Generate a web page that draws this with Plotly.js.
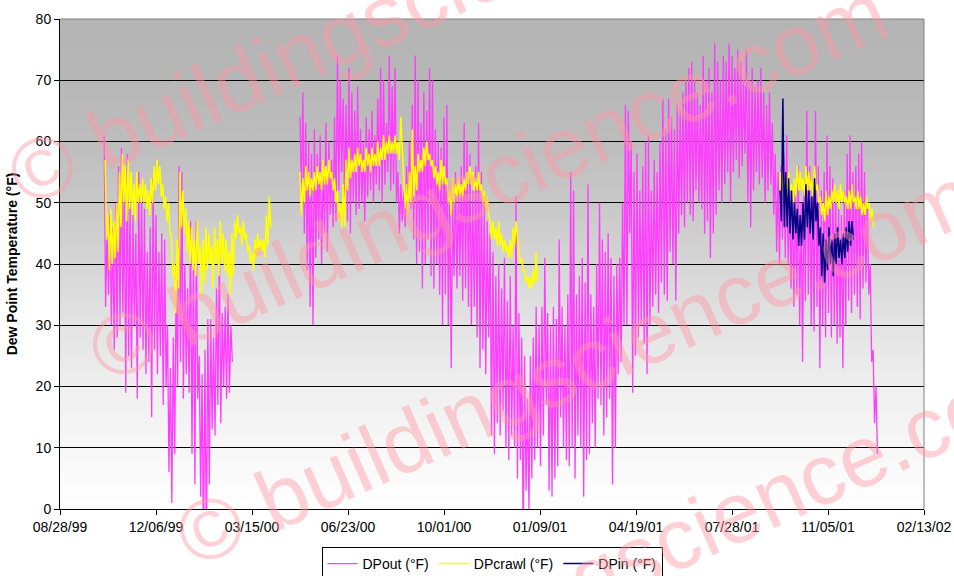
<!DOCTYPE html>
<html><head><meta charset="utf-8">
<script src="https://cdn.plot.ly/plotly-3.0.1.min.js"></script>
<style>html,body{margin:0;padding:0;background:#fff;} #chart{width:954px;height:576px;}</style>
</head><body><div id="chart"></div>
<script>
// ---- axis ticks ----
const tickDates = ['1999-08-28','1999-12-06','2000-03-15','2000-06-23','2000-10-01','2001-01-09','2001-04-19','2001-07-28','2001-11-05','2002-02-13'];
const tickLabels = ['08/28/99','12/06/99','03/15/00','06/23/00','10/01/00','01/09/01','04/19/01','07/28/01','11/05/01','02/13/02'];
const yTicks = [0,10,20,30,40,50,60,70,80];

// ---- series: values alternate (high, low) for consecutive 1.5-day steps ----
const dpOutStart1 = '1999-10-13';
const dpOutA = [61,33, 45,35, 48,30, 46,26, 50,28, 56,30, 59,32, 52,19, 58,25, 50,23,
 48,30, 45,18, 55,28, 51,26, 49,22, 42,24, 46,15, 54,26, 48,22, 42,25,
 45,17, 44,20, 30,6, 23,1, 28,9, 38,20, 56,24, 55,18, 40,22, 36,19,
 47,9, 42,4, 47,18, 25,2, 22,-8, 26,-9, 31,4, 31,13, 28,12, 36,17,
 43,14, 32,20, 33,18, 35,19, 30,24];
const dpOutStart2 = '2000-05-04';
const dpOutB = [64,51, 68,45, 63,39, 60,33, 58,30, 62,41, 58,44, 61,40, 56,45, 63,42,
 60,48, 57,46, 64,47, 74,52, 70,55, 67,50, 66,47, 72,45, 68,50, 65,48,
 69,49, 62,50, 60,47, 64,51, 62,52, 65,50, 61,53, 67,52, 72,50, 70,53,
 63,55, 74,52, 69,53, 72,50, 55,45, 53,47, 52,46, 56,48, 60,49, 66,44,
 74,40, 70,42, 63,36, 68,40, 65,44, 72,38, 70,36, 62,40, 60,35, 59,30,
 64,35, 66,30, 52,23, 50,38, 55,36, 53,38, 56,34, 63,36, 60,33, 58,30,
 52,33, 56,28, 63,23, 55,26, 50,22, 47,28, 45,12, 42,9, 38,14, 40,12,
 36,16, 41,10, 34,8, 38,12, 30,10, 51,5, 32,8, 28,-6, 25,3, 18,0,
 25,5, 28,8, 33,10, 30,7, 33,12, 41,17, 32,3, 30,2, 33,5, 31,7,
 44,15, 33,10, 30,8, 35,7, 55,10, 52,5, 35,12, 38,10, 41,2, 37,8,
 53,9, 35,14, 33,10, 40,18, 50,17, 44,12, 42,15, 45,18, 41,4, 38,10,
 40,22, 41,24, 50,30, 66,30, 65,45, 60,19, 55,25, 58,28, 52,30, 56,27,
 60,22, 61,30, 52,33, 57,35, 55,32, 60,37, 67,35, 62,34, 67,42, 64,40,
 62,34, 66,45, 65,48, 68,46, 70,50, 72,48, 73,47, 70,52, 68,50, 66,49,
 74,45, 70,47, 72,41, 68,45, 76,48, 73,52, 70,50, 74,53, 73,55, 76,50,
 74,55, 72,57, 75,54, 73,56, 70,58, 75,50, 70,46, 72,52, 69,55, 70,53,
 72,54, 68,50, 66,52, 68,53, 63,48, 58,42, 55,40, 56,44, 58,41, 61,40,
 52,36, 50,33, 53,35, 56,30, 50,24, 54,34, 65,35, 56,30, 54,29, 65,33,
 56,23, 52,30, 55,28, 61,32, 56,28, 54,30, 52,27, 50,28, 48,23, 52,30,
 58,34, 61,32, 55,35, 56,33, 58,31, 60,36, 55,37, 50,35, 40,24, 26,14,
 20,9];

const crawlStart1 = '1999-10-14';
const crawlA = [57,44, 48,39, 49,40, 47,41, 50,42, 55,46, 58,50, 56,47, 57,49, 55,48,
 53,47, 55,50, 53,50, 54,50, 53,49, 52,48, 54,50, 56,52, 57,53, 56,51,
 53,49, 51,47, 50,45, 45,38, 40,32, 44,36, 55,46, 52,45, 49,42, 47,40,
 46,39, 44,38, 47,40, 43,35, 44,37, 46,39, 45,40, 43,36, 46,40, 44,38,
 47,40, 45,39, 44,38, 42,35, 45,38, 47,44, 48,45, 46,43, 47,44, 45,42,
 43,40, 42,39, 44,41, 45,42, 44,42, 44,41, 48,43, 51,46];
const crawlStart2 = '2000-05-04';
const crawlB = [55,48, 54,50, 56,52, 55,51, 54,52, 55,52, 56,53, 55,52, 57,53, 56,53,
 57,54, 55,52, 54,50, 52,47, 50,46, 53,46, 57,52, 59,54, 57,55, 58,55,
 59,56, 58,55, 57,55, 59,56, 58,55, 59,56, 58,56, 60,56, 59,57, 61,57,
 60,58, 61,58, 60,58, 61,58, 60,57, 64,59, 55,49, 53,48, 55,50, 62,51,
 56,52, 58,55, 57,55, 59,56, 60,57, 58,56, 57,54, 56,53, 55,52, 57,53,
 56,53, 54,50, 52,48, 54,50, 53,51, 54,51, 53,51, 54,52, 55,53, 56,53,
 55,52, 54,52, 55,52, 53,50, 52,49, 51,48, 47,44, 47,44, 46,43, 47,43,
 45,42, 44,42, 43,41, 44,41, 46,43, 47,44, 42,40, 41,39, 39,37, 38,36,
 38,36, 39,37, 42,37];
const crawlStart3 = '2001-09-16';
const crawlC = [55,51, 55,52, 54,51, 55,52, 53,50, 54,51, 56,52, 55,52, 54,51, 56,52,
 55,52, 54,51, 56,52, 53,50, 51,48, 50,47, 52,48, 51,49, 52,50, 53,50,
 52,49, 53,50, 52,50, 51,49, 52,49, 53,50, 51,49, 52,49, 51,48, 50,48,
 51,49, 50,47, 49,46];

const dpInStart = '2001-09-16';
const dpIn = [52,47, 67,46, 55,46, 54,45, 52,44, 50,45, 49,43, 48,43, 50,44, 53,46,
 52,45, 51,44, 54,47, 50,43, 46,38, 45,37, 44,39, 46,40, 44,38, 45,40,
 46,41, 44,40, 45,41, 46,42, 47,43, 47,44];

const seriesNames = ['DPout (°F)','DPcrawl (°F)','DPin (°F)'];
const seriesColors = ['#ff3cff','#ffff00','#000080'];

// ---- helpers ----
const DAY = 86400000;
function xs(start, n){ const t0 = Date.parse(start+'T00:00:00Z'); const a=[]; for(let i=0;i<n;i++) a.push(t0 + i*1.5*DAY); return a; }
function joinSegs(segs){ const x=[], y=[]; segs.forEach((s,k)=>{ if(k>0){x.push(null);y.push(null);} x.push(...xs(s[0], s[1].length)); y.push(...s[1]); }); return {x,y}; }

const out = joinSegs([[dpOutStart1, dpOutA],[dpOutStart2, dpOutB]]);
const crawl = joinSegs([[crawlStart1, crawlA],[crawlStart2, crawlB],[crawlStart3, crawlC]]);
const din = joinSegs([[dpInStart, dpIn]]);

const FONT = 'Liberation Sans, Arial, sans-serif';
const traces = [
  {type:'scatter', mode:'lines', name:seriesNames[0], x:out.x, y:out.y, connectgaps:false, line:{color:seriesColors[0], width:1.3}},
  {type:'scatter', mode:'lines', name:seriesNames[1], x:crawl.x, y:crawl.y, connectgaps:false, line:{color:seriesColors[1], width:1.5}},
  {type:'scatter', mode:'lines', name:seriesNames[2], x:din.x, y:din.y, connectgaps:false, line:{color:seriesColors[2], width:1.5}}
];

const gradSvg = '<svg xmlns="http://www.w3.org/2000/svg" width="10" height="100" viewBox="0 0 10 100" preserveAspectRatio="none">'+
 '<defs><linearGradient id="g" x1="0" y1="0" x2="0" y2="1">'+
 '<stop offset="0" stop-color="#b4b4b4"/><stop offset="0.125" stop-color="#b7b7b7"/><stop offset="0.25" stop-color="#bdbdbd"/>'+
 '<stop offset="0.375" stop-color="#c8c8c8"/><stop offset="0.5" stop-color="#d5d5d5"/><stop offset="0.625" stop-color="#e3e3e3"/>'+
 '<stop offset="0.75" stop-color="#efefef"/><stop offset="0.875" stop-color="#f7f7f7"/><stop offset="1" stop-color="#ffffff"/>'+
 '</linearGradient></defs><rect x="0" y="0" width="10" height="100" fill="url(#g)"/></svg>';

const wmText = '© buildingscience.com';
const wmPos = [[0.4016,1.0286],[0.4954,0.6694],[0.5961,0.2918],[0.6944,-0.0755]];
const annotations = wmPos.map(p=>({xref:'paper', yref:'paper', x:p[0], y:p[1], xanchor:'center', yanchor:'middle', showarrow:false, text:wmText, textangle:-24, font:{family:FONT, size:86, color:'rgba(255,150,165,0.45)'}}));

const layout = {
  width:954, height:576,
  margin:{l:60, r:30, t:19, b:67, autoexpand:false},
  paper_bgcolor:'#ffffff', plot_bgcolor:'rgba(0,0,0,0)',
  font:{family:FONT, size:14, color:'#000'},
  showlegend:true,
  legend:{orientation:'h', x:0.5, xanchor:'center', y:-0.0776, yanchor:'top', bgcolor:'#ffffff', bordercolor:'#000', borderwidth:1, font:{family:FONT, size:14, color:'#000'}, itemwidth:30, tracegroupgap:0},
  xaxis:{type:'date', range:['1999-08-28','2002-02-13'], tickmode:'array', tickvals:tickDates, ticktext:tickLabels,
    showgrid:false, zeroline:false, showline:true, linecolor:'#000', linewidth:1, ticks:'outside', ticklen:5, tickcolor:'#000',
    tickfont:{family:FONT, size:14, color:'#000'}},
  yaxis:{range:[0,80], tickmode:'array', tickvals:yTicks, showgrid:true, gridcolor:'#000', gridwidth:1, zeroline:false,
    showline:true, linecolor:'#000', linewidth:1, ticks:'outside', ticklen:5, tickcolor:'#000',
    tickfont:{family:FONT, size:14, color:'#000'},
    title:{text:'Dew Point Temperature (°F)', font:{family:FONT, size:14, color:'#000', weight:'bold'}, standoff:14}},
  images:[{source:'data:image/svg+xml;charset=utf-8,'+encodeURIComponent(gradSvg), xref:'paper', yref:'paper', x:0, y:1, sizex:1, sizey:1, sizing:'stretch', xanchor:'left', yanchor:'top', layer:'below'}],
  shapes:[
    {type:'line', xref:'paper', yref:'paper', x0:0, x1:1, y0:1, y1:1, line:{color:'#808080', width:1}, layer:'above'},
    {type:'line', xref:'paper', yref:'paper', x0:1, x1:1, y0:0, y1:1, line:{color:'#808080', width:1}, layer:'above'}
  ],
  annotations:annotations
};

Plotly.newPlot('chart', traces, layout, {displayModeBar:false, staticPlot:true});
</script></body></html>
